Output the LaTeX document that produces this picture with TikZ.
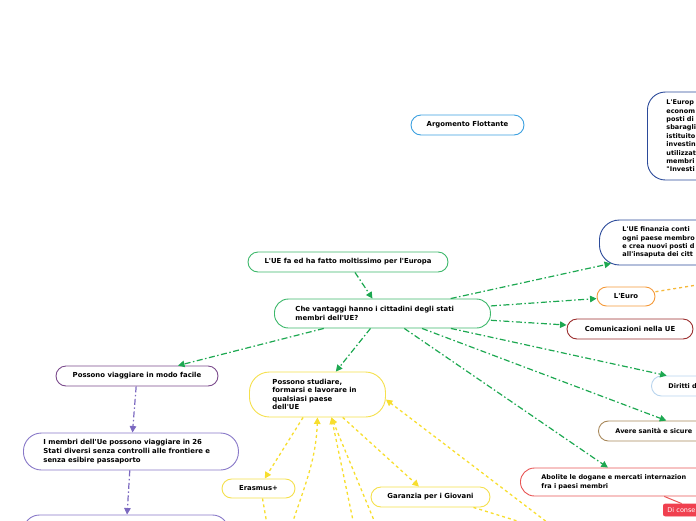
\documentclass[tikz,border=0pt]{standalone}
\usepackage{fontspec}
\newfontfamily\uifont{DejaVu Sans}
\usetikzlibrary{arrows.meta}
\definecolor{gline}{HTML}{1DA851}
\definecolor{gbox}{HTML}{3DB86B}
\definecolor{ybox}{HTML}{F5E04C}
\definecolor{yline}{HTML}{F7DE2E}
\definecolor{pdark}{HTML}{7B4B8C}
\definecolor{plight}{HTML}{8878C8}
\definecolor{pline}{HTML}{7B68C0}
\definecolor{bdark}{HTML}{2B4A9A}
\definecolor{bsky}{HTML}{3BA0E0}
\definecolor{bpale}{HTML}{B8D4EE}
\definecolor{obox}{HTML}{F59A3A}
\definecolor{oline}{HTML}{F5B83A}
\definecolor{rdark}{HTML}{9B2D2D}
\definecolor{rbox}{HTML}{E85555}
\definecolor{rfill}{HTML}{F0404F}
\definecolor{tan}{HTML}{A8885A}
\begin{document}
\begin{tikzpicture}[x=1pt,y=-1pt,
  every node/.style={font=\uifont\bfseries\fontsize{6.9}{8.6}\selectfont, inner sep=0pt, text=black},
  edgetext/.style={font=\uifont\bfseries\fontsize{6.5}{8.4}\selectfont},
  pill/.style={draw, fill=white, line width=0.9pt, align=center},
  lbox/.style={draw, fill=white, line width=0.9pt, align=left, anchor=west},
  gconn/.style={draw=gline, line width=1.2pt, dash pattern=on 6pt off 2.5pt on 1.5pt off 2.5pt, -{Triangle[length=6.5pt,width=6.5pt]}},
  pconn/.style={draw=pline, line width=1.2pt, dash pattern=on 6pt off 2.5pt on 1.5pt off 2.5pt, -{Triangle[length=6.5pt,width=6.5pt]}},
  yconn/.style={draw=yline, line width=1.3pt, dash pattern=on 3pt off 3pt, -{Triangle[length=6.5pt,width=6.5pt]}},
  ydot/.style={draw=yline, line width=1.3pt, dash pattern=on 3pt off 3pt},
  odot/.style={draw=oline, line width=1.3pt, dash pattern=on 3pt off 3pt},
  rline/.style={draw=rbox, line width=1pt}
]
\useasboundingbox (0,0) rectangle (696,520);
\clip (0,0) rectangle (696,520);

% nodes
\node[pill, draw=bsky, minimum width=113, minimum height=20, rounded corners=10] (arg) at (467.5,125) {Argomento Flottante};
\node[lbox, edgetext, draw=bdark, inner xsep=19pt, text width=120pt, minimum height=88, rounded corners=18] (big) at (647,136)
  {L'Europ\\econom\\posti di\\sbaragli\\istituito\\investin\\utilizzat\\membri\\"Investi};
\node[lbox, edgetext, draw=bdark, inner xsep=23pt, text width=164pt, minimum height=45, rounded corners=20] (fin) at (599,242.5)
  {L'UE finanzia conti\\ogni paese membro\\e crea nuovi posti d\\all'insaputa dei citt};
\node[pill, draw=obox, minimum width=58, minimum height=19, rounded corners=9.5] (euro) at (626,296.5) {L'Euro};
\node[pill, draw=rdark, minimum width=126, minimum height=20, rounded corners=10] (com) at (630,329) {Comunicazioni nella UE};
\node[lbox, edgetext, draw=bpale, inner xsep=17pt, text width=92pt, minimum height=20, rounded corners=10] (dir) at (651,386) {Diritti d};
\node[lbox, edgetext, draw=tan, inner xsep=17pt, text width=157pt, minimum height=20, rounded corners=10] (san) at (598,431) {Avere sanità e sicure};
\node[lbox, edgetext, draw=rbox, inner xsep=21pt, text width=175pt, minimum height=28, rounded corners=14] (abo) at (520,482)
  {Abolite le dogane e mercati internazion\\fra i paesi membri};
\node[lbox, draw=rfill, fill=rfill, inner xsep=4pt, text width=60pt, minimum height=12, rounded corners=2,
  font=\uifont\mdseries\fontsize{6.5}{8.4}\selectfont, text=white] (dic) at (663,510) {Di conse};

\node[pill, draw=gbox, minimum width=200, minimum height=20, rounded corners=10] (ufa) at (348,262) {L'UE fa ed ha fatto moltissimo per l'Europa};
\node[lbox, draw=gbox, inner xsep=21pt, text width=174pt, minimum height=29, rounded corners=14] (che) at (274,313.5)
  {Che vantaggi hanno i cittadini degli stati\\membri dell'UE?};

\node[pill, draw=pdark, minimum width=162, minimum height=20, rounded corners=10] (via) at (137,376) {Possono viaggiare in modo facile};
\node[lbox, draw=plight, inner xsep=20pt, text width=175pt, minimum height=37, rounded corners=18] (mem) at (23,451.5)
  {I membri dell'Ue possono viaggiare in 26\\Stati diversi senza controlli alle frontiere e\\senza esibire passaporto};
\node[lbox, draw=plight, inner xsep=20pt, text width=165pt, minimum height=35, rounded corners=16] (bot) at (23,532.5) {};

\node[lbox, draw=ybox, inner xsep=23pt, text width=90pt, minimum height=45, rounded corners=20] (stu) at (249,394.5)
  {Possono studiare,\\formarsi e lavorare in\\qualsiasi paese\\dell'UE};
\node[pill, draw=ybox, minimum width=73, minimum height=19, rounded corners=9.5] (era) at (258.5,488.5) {Erasmus+};
\node[pill, draw=ybox, minimum width=119, minimum height=20, rounded corners=10] (gar) at (430.5,497) {Garanzia per i Giovani};

% free ends
\coordinate (c1) at (290,530);
\coordinate (c2) at (355,530);
\coordinate (c3) at (378,530);
\coordinate (c4) at (560,532);
\coordinate (c5) at (268,530);
\coordinate (c6) at (540,528);
\coordinate (ce) at (740,278);

% connectors
\draw[gconn] (ufa) -- (che);
\draw[gconn] (che) -- ([xshift=12pt,yshift=2pt]fin.south west);
\draw[gconn] (che) -- (euro);
\draw[gconn] (che) -- (com);
\draw[gconn] (che) -- (dir);
\draw[gconn] (che) -- (san);
\draw[gconn] (che) -- (abo);
\draw[gconn] (che) -- (via);
\draw[gconn] (che) -- (stu);

\draw[pconn] (via) -- (mem);
\draw[pconn] (mem) -- (bot);

\draw[yconn] (stu) -- (era);
\draw[yconn] (stu) -- (gar);
\draw[yconn] (c1) .. controls (305,485) and (316,460) .. (stu.south);
\draw[yconn] (c2) -- ([xshift=14pt]stu.south);
\draw[yconn] (c3) -- ([xshift=14pt]stu.south);
\draw[yconn] (c4) -- ([yshift=-5pt]stu.east);
\draw[ydot] ([xshift=4pt]era.south) -- (c5);
\draw[ydot] ([xshift=43pt]gar.south) -- (c6);
\draw[odot] (euro) -- (ce);
\draw[rline] (abo) -- (dic);
\end{tikzpicture}
\end{document}
